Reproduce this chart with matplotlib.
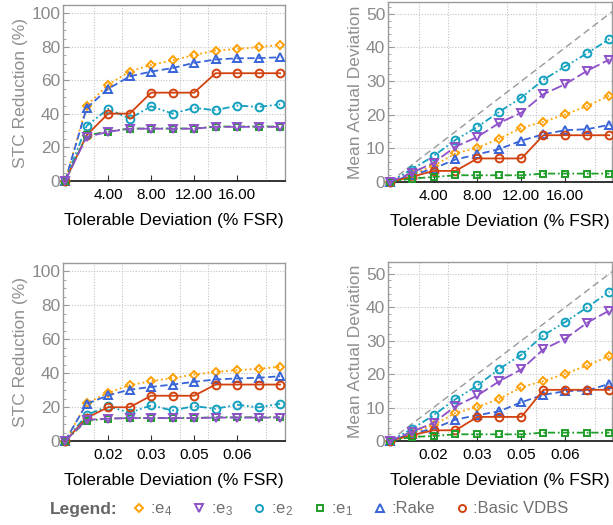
import numpy as np
import matplotlib
matplotlib.use("Agg")
import matplotlib.pyplot as plt
from matplotlib.lines import Line2D
from matplotlib.ticker import MultipleLocator, FixedLocator

plt.rcParams['font.family'] = ['Liberation Sans', 'DejaVu Sans']
plt.rcParams['mathtext.fontset'] = 'custom'
plt.rcParams['mathtext.rm'] = 'Liberation Sans'
plt.rcParams['mathtext.default'] = 'regular'

# x values: tolerable deviation
x_top = [0, 2, 4, 6, 8, 10, 12, 14, 16, 18, 20]
x_bot = [0, 0.008, 0.016, 0.024, 0.032, 0.040, 0.048, 0.056, 0.064, 0.072, 0.080]

# STC reduction, top row
stc_top_e4 = [0, 45, 57.5, 65.3, 69.3, 72, 75.2, 77.8, 78.8, 79.8, 81.2]
stc_top_e3 = [0, 26.3, 29.3, 31.2, 31.2, 31.2, 31.2, 32.3, 32.3, 32.3, 32.3]
stc_top_e2 = [0, 32.9, 43, 37.2, 44.6, 40.2, 43.6, 42.2, 45, 44.2, 45.7]
stc_top_e1 = [0, 27.2, 29.5, 31.3, 31.3, 31.3, 31.3, 32.5, 32.5, 32.5, 32.5]
stc_top_rake = [0, 43.5, 55, 62.4, 65.3, 67.4, 70.5, 72.5, 73.2, 73.3, 73.8]
stc_top_vdbs = [0, 27.3, 40.2, 40.2, 52.7, 52.7, 52.7, 64.3, 64.3, 64.3, 64.3]

# mean actual deviation, top row
dev_top_e4 = [0, 2.3, 4.8, 8.5, 10.2, 12.9, 16.1, 17.9, 20.1, 22.6, 25.7]
dev_top_e3 = [0, 2.7, 5.7, 10.5, 13.4, 17.6, 20.6, 26.1, 29.1, 33.1, 36.4]
dev_top_e2 = [0, 3.7, 7.7, 12.5, 16.4, 20.9, 25.1, 30.4, 34.4, 38.3, 42.5]
dev_top_e1 = [0, 1.0, 1.5, 2.0, 2.0, 2.0, 2.0, 2.5, 2.5, 2.5, 2.5]
dev_top_rake = [0, 2.0, 4.0, 6.7, 8.2, 9.8, 12.3, 14.2, 15.4, 15.7, 17.0]
dev_top_vdbs = [0, 1.5, 3.3, 3.3, 7.0, 7.0, 7.0, 13.9, 13.9, 13.9, 13.9]

# STC reduction, bottom row
stc_bot_e4 = [0, 22.3, 28.5, 32.9, 35.3, 37.2, 39.2, 40.8, 41.8, 42.6, 43.8]
stc_bot_e3 = [0, 12.5, 13.2, 13.5, 13.5, 13.5, 13.5, 13.8, 13.8, 13.8, 13.8]
stc_bot_e2 = [0, 15.5, 20.4, 16.7, 21.0, 18.0, 20.6, 19.0, 21.4, 19.8, 22.0]
stc_bot_e1 = [0, 12.0, 13.2, 13.6, 13.6, 13.6, 13.6, 14.0, 14.0, 14.0, 14.0]
stc_bot_rake = [0, 21.9, 26.9, 30.3, 31.9, 33.3, 34.9, 36.3, 36.9, 37.3, 38.2]
stc_bot_vdbs = [0, 13.7, 19.9, 19.9, 26.7, 26.7, 26.7, 33.3, 33.3, 33.3, 33.3]

# mean actual deviation, bottom row
dev_bot_e4 = [0, 2.4, 4.7, 8.4, 10.2, 12.6, 16.1, 17.9, 20.1, 22.6, 25.4]
dev_bot_e3 = [0, 2.7, 5.4, 10.4, 13.6, 17.9, 21.4, 27.4, 30.6, 35.4, 39.0]
dev_bot_e2 = [0, 3.5, 7.7, 12.5, 16.6, 21.6, 25.8, 31.6, 35.6, 40.0, 44.6]
dev_bot_e1 = [0, 1.2, 1.5, 2.0, 2.0, 2.0, 2.0, 2.5, 2.5, 2.5, 2.5]
dev_bot_rake = [0, 2.2, 3.7, 6.4, 7.7, 8.9, 11.6, 13.8, 14.9, 15.1, 17.1]
dev_bot_vdbs = [0, 1.7, 3.2, 3.2, 7.2, 7.2, 7.2, 15.3, 15.3, 15.3, 15.3]

# reference line end value (diagonal)
ref_max = 50

labels = [':e$_4$', ':e$_3$', ':e$_2$', ':e$_1$', ':Rake', ':Basic VDBS']
colors = ['#ffa000', '#8e52c8', '#14a0be', '#1f9e2a', '#3864d8', '#d2420f']
markers = ['D', 'v', 'o', 's', '^', 'o']
msizes = [4.3, 5.8, 5.6, 4.8, 5.8, 5.6]
styles = [(0, (1, 1.6)), (0, (6, 2)), (0, (4, 1.5, 1, 1.5, 1, 1.5)),
          (0, (4, 1.5, 1, 1.5)), (0, (4, 2)), '-']
zorders = [3, 6, 4, 5, 3, 4]

fig = plt.figure(figsize=(6.13, 5.25), dpi=100)
W, H = 613., 525.

def make_ax(l, t, r, b):
    return fig.add_axes([l / W, 1 - b / H, (r - l) / W, (b - t) / H])

ax_tl = make_ax(63, 5, 285, 181)
ax_tr = make_ax(388, 2, 612, 182)
ax_bl = make_ax(63, 263, 285, 441)
ax_br = make_ax(388, 262, 612, 441)

panels = [
    (ax_tl, x_top, [stc_top_e4, stc_top_e3, stc_top_e2, stc_top_e1, stc_top_rake, stc_top_vdbs], 'stc'),
    (ax_tr, x_top, [dev_top_e4, dev_top_e3, dev_top_e2, dev_top_e1, dev_top_rake, dev_top_vdbs], 'dev'),
    (ax_bl, x_bot, [stc_bot_e4, stc_bot_e3, stc_bot_e2, stc_bot_e1, stc_bot_rake, stc_bot_vdbs], 'stc'),
    (ax_br, x_bot, [dev_bot_e4, dev_bot_e3, dev_bot_e2, dev_bot_e1, dev_bot_rake, dev_bot_vdbs], 'dev'),
]

for ax, xs, series, kind in panels:
    xmax = xs[-1]
    step = xs[1] - xs[0]
    if kind == 'dev':
        ax.set_xlim(-0.07 * step, xmax + 0.12 * step)
        ax.set_ylim(0, 53.5)
        ax.plot([0, xmax * 1.03], [0, ref_max * 1.03], ls=(0, (5, 3)), color='#999999', lw=1.0, zorder=2)
        ax.yaxis.set_major_locator(MultipleLocator(10))
        ax.yaxis.set_minor_locator(MultipleLocator(2))
        ax.set_ylabel('Mean Actual Deviation', fontsize=12.5, color='#909090', labelpad=2)
    else:
        ax.set_xlim(-0.1 * step, xmax + 0.23 * step)
        ax.set_ylim(0, 105)
        ax.yaxis.set_major_locator(MultipleLocator(20))
        ax.yaxis.set_minor_locator(MultipleLocator(5))
        ax.set_ylabel('STC Reduction (%)', fontsize=12.5, color='#909090', labelpad=2)

    for ys, c, m, ms, st, z in zip(series, colors, markers, msizes, styles, zorders):
        ax.plot(xs, ys, color=c, ls=st, lw=1.3, marker=m, ms=ms, mfc='none',
                mec=c, mew=1.4, zorder=z, clip_on=False)

    ticks = [xmax * k / 5 for k in range(1, 5)]
    ax.xaxis.set_major_locator(FixedLocator(ticks))
    ax.xaxis.set_minor_locator(FixedLocator([xmax * k / 7.5 for k in range(1, 8)]))
    ax.set_xticklabels(['%.2f' % t for t in ticks], fontsize=11)
    ax.set_xlabel('Tolerable Deviation (% FSR)', fontsize=12.5, labelpad=8)

    ax.grid(True, which='major', axis='y', ls=(0, (1, 1.5)), color='#c4c4c4', lw=0.8)
    ax.grid(True, which='minor', axis='x', ls=(0, (1, 1.5)), color='#c4c4c4', lw=0.8)
    ax.set_axisbelow(True)

    ax.tick_params(axis='y', which='major', direction='in', length=4, color='#999999',
                   labelsize=12.5, labelcolor='#8a8a8a', pad=2)
    ax.tick_params(axis='y', which='minor', direction='in', length=2, color='#999999')
    ax.tick_params(axis='x', which='major', direction='in', length=4, color='#333333', pad=5)
    ax.tick_params(axis='x', which='minor', length=0)

    for s in ['top', 'right', 'left']:
        ax.spines[s].set_color('#9a9a9a')
        ax.spines[s].set_linewidth(1.0)
    ax.spines['bottom'].set_color('#222222')
    ax.spines['bottom'].set_linewidth(1.3)

handles = [Line2D([], [], ls='none', marker=m, ms=ms * 0.9, mfc='none', mec=c, mew=1.4)
           for m, ms, c in zip(markers, msizes, colors)]
leg = fig.legend(handles, labels, loc='center', bbox_to_anchor=(0.572, 0.029), ncol=6,
                 frameon=False, fontsize=12, handlelength=0.7, handletextpad=0.35,
                 columnspacing=1.25, borderpad=0)
for t in leg.get_texts():
    t.set_color('#707070')
fig.text(50 / W, 0.029, 'Legend:', fontsize=12.5, fontweight='bold', color='#666666',
         ha='left', va='center')

fig.savefig('out.png', dpi=100)
